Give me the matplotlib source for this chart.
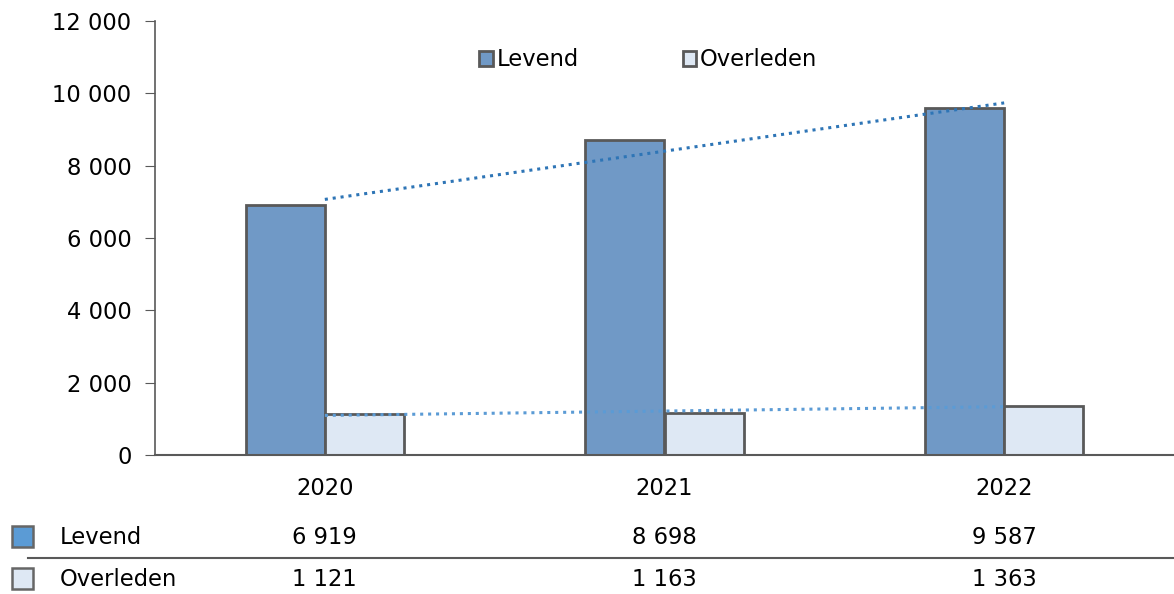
import numpy as np
import matplotlib.pyplot as plt
from matplotlib.patches import Rectangle

years = ['2020', '2021', '2022']
levend = [6919, 8698, 9587]
overleden = [1121, 1163, 1363]
series_names = ['Levend', 'Overleden']
yticks = [0, 2000, 4000, 6000, 8000, 10000, 12000]

def fmt(v):
    return '{:,}'.format(v).replace(',', ' ')

plt.rcParams['font.family'] = ['DejaVu Sans']
fs = 16.3

fig = plt.figure(figsize=(11.74, 5.94), dpi=100)
ax = fig.add_axes([155/1174, 1 - 455/594, 1019/1174, 434/594])

x = np.arange(len(years))
w = 0.233
c_lev = '#7099C6'
c_ovl = '#DEE8F4'
edge = '#595959'
ax.bar(x - w/2, levend, w, color=c_lev, edgecolor=edge, linewidth=2, label=series_names[0], zorder=2)
ax.bar(x + w/2, overleden, w, color=c_ovl, edgecolor=edge, linewidth=2, label=series_names[1], zorder=2)

# linear trend lines
for vals, col in [(levend, '#2E75B6'), (overleden, '#5B9BD5')]:
    k, b = np.polyfit(x, vals, 1)
    ax.plot(x, k*x + b, linestyle=(0, (1, 1.6)), color=col, linewidth=2.2, zorder=3)

ax.set_xlim(-0.5, 2.5)
ax.set_ylim(0, 12000)
ax.set_yticks(yticks)
ax.set_yticklabels([fmt(v) for v in yticks], fontsize=fs)
ax.set_xticks(x)
ax.set_xticklabels(years, fontsize=fs)
ax.tick_params(axis='x', length=0, pad=16)
ax.tick_params(axis='y', length=7, color='#595959', pad=10)
for s in ['top', 'right']:
    ax.spines[s].set_visible(False)
ax.spines['left'].set_color('#595959')
ax.spines['bottom'].set_color('#595959')
ax.spines['left'].set_linewidth(1.2)
ax.spines['bottom'].set_linewidth(1.5)

ax.legend(loc='upper center', bbox_to_anchor=(0.484, 0.984), ncol=2, frameon=False,
          fontsize=fs, handlelength=0.6, handleheight=0.6, handletextpad=0.15,
          columnspacing=4.6)

# data table below
rows = [(series_names[0], levend, '#5B9BD5', 537), (series_names[1], overleden, c_ovl, 579)]
for name, vals, col, ypx in rows:
    yf = 1 - ypx/594
    fig.patches.append(Rectangle((12/1174, yf - 10/594), 21/1174, 21/594,
                                 transform=fig.transFigure, facecolor=col,
                                 edgecolor='#666666', linewidth=1.8))
    fig.text(60/1174, yf, name, fontsize=fs, va='center', ha='left')
    for i, v in enumerate(vals):
        xd = ax.transData.transform((i, 0))[0]
        xf = fig.transFigure.inverted().transform((xd, 0))[0]
        fig.text(xf, yf, fmt(v), fontsize=fs, va='center', ha='center')

fig.add_artist(plt.Line2D([28/1174, 1], [1 - 558/594, 1 - 558/594],
                          transform=fig.transFigure, color='#595959', linewidth=1.5))

fig.savefig('out.png', dpi=100)
